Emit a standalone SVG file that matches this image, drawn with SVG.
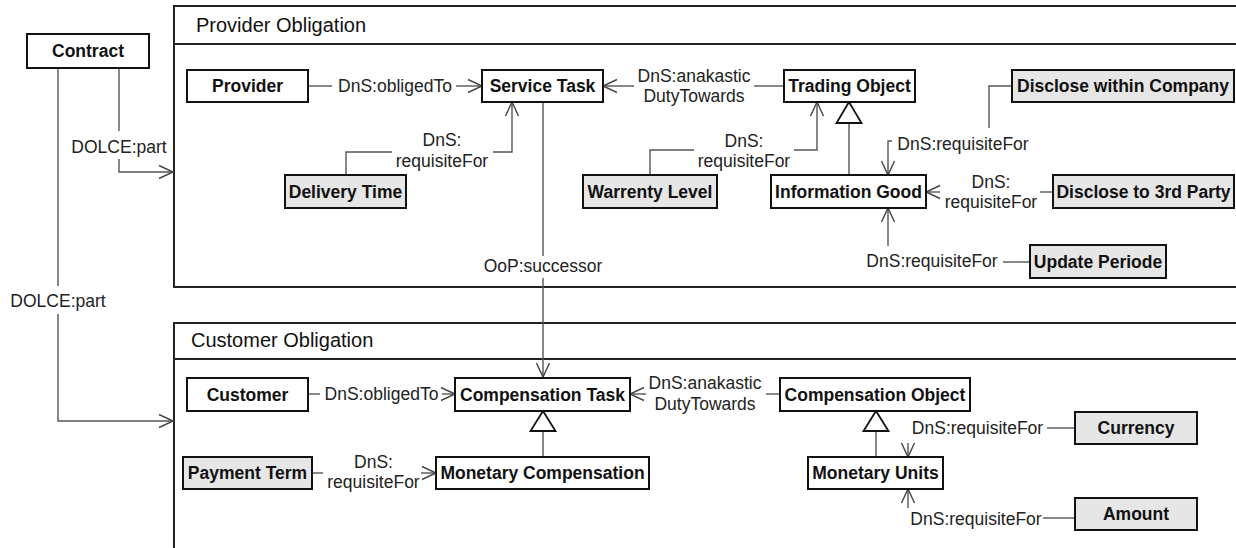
<svg xmlns="http://www.w3.org/2000/svg" width="1236" height="548" viewBox="0 0 1236 548">
<style>
.frame{fill:none;stroke:#222;stroke-width:2}
.title{font-family:"Liberation Sans",Arial,sans-serif;font-size:20px;fill:#111}
.node rect{fill:#fff;stroke:#111;stroke-width:2}
.node.req rect{fill:#e6e6e6}
.node text{font-family:"Liberation Sans",Arial,sans-serif;font-size:17.5px;font-weight:bold;text-anchor:middle;fill:#111}
.conn{fill:none;stroke:#555;stroke-width:1.4}
.arrow{marker-end:url(#open)}
.gen{fill:#fff;stroke:#111;stroke-width:1.8}
.lbl{font-family:"Liberation Sans",Arial,sans-serif;font-size:17.5px;text-anchor:middle;fill:#222}
</style>
<defs>
<marker id="open" markerUnits="userSpaceOnUse" markerWidth="16" markerHeight="14" viewBox="0 0 16 14" refX="14" refY="7" orient="auto" overflow="visible">
<path d="M0,0.5 L14,7 L0,13.5" fill="none" stroke="#444" stroke-width="1.4"/>
</marker>
</defs>
<rect width="1236" height="548" fill="#fff"/>

<g id="provider-obligation">
<path class="frame" d="M1240,6 H174 V287 H1240"/>
<path class="frame" d="M174,44 H1240"/>
<text class="title" x="196" y="32">Provider Obligation</text>
</g>
<g id="customer-obligation">
<path class="frame" d="M1240,323 H174 V552"/>
<path class="frame" d="M174,359 H1240"/>
<text class="title" x="191" y="347">Customer Obligation</text>
</g>

<g id="connectors">
<!-- Contract -> Provider Obligation -->
<path class="conn" d="M119,68 V131"/>
<path class="conn arrow" d="M119,159 V172 H173"/>
<text class="lbl" x="119" y="153">DOLCE:part</text>
<!-- Contract -> Customer Obligation -->
<path class="conn" d="M58,68 V286"/>
<path class="conn arrow" d="M58,314 V421 H173"/>
<text class="lbl" x="58" y="307">DOLCE:part</text>
<!-- Provider obligedTo -->
<path class="conn" d="M308,86 H332"/>
<path class="conn arrow" d="M456,86 H482"/>
<text class="lbl" x="395" y="92">DnS:obligedTo</text>
<!-- anakastic provider -->
<path class="conn arrow" d="M634,86 H603"/>
<path class="conn" d="M784,86 H754"/>
<text class="lbl" x="694" y="82">DnS:anakastic</text>
<text class="lbl" x="694" y="102">DutyTowards</text>
<!-- Disclose within Company -->
<path class="conn" d="M1012,86 H989 V128"/>
<path class="conn arrow" d="M892,141 H888 V175"/>
<text class="lbl" x="963" y="150">DnS:requisiteFor</text>
<!-- Disclose to 3rd Party -->
<path class="conn" d="M1053,192 H1040"/>
<path class="conn arrow" d="M940,192 H926"/>
<text class="lbl" x="991" y="188">DnS:</text>
<text class="lbl" x="991" y="208">requisiteFor</text>
<!-- Update Periode -->
<path class="conn" d="M1030,262 H1003"/>
<path class="conn arrow" d="M888,246 V208"/>
<text class="lbl" x="932" y="267">DnS:requisiteFor</text>
<!-- Delivery Time -->
<path class="conn" d="M346,175 V152 H392"/>
<path class="conn arrow" d="M493,152 H512 V102"/>
<text class="lbl" x="442" y="146">DnS:</text>
<text class="lbl" x="442" y="167">requisiteFor</text>
<!-- Warrenty Level -->
<path class="conn" d="M650,175 V150 H694"/>
<path class="conn arrow" d="M794,150 H817 V102"/>
<text class="lbl" x="744" y="147">DnS:</text>
<text class="lbl" x="744" y="167">requisiteFor</text>
<!-- Information Good generalizes Trading Object -->
<path class="conn" d="M849,175 V123"/>
<polygon class="gen" points="849,102 836.5,123 861.5,123"/>
<!-- successor -->
<path class="conn" d="M543,102 V256"/>
<path class="conn arrow" d="M543,278 V377"/>
<text class="lbl" x="543" y="272">OoP:successor</text>
<!-- Customer obligedTo -->
<path class="conn" d="M308,394 H320"/>
<path class="conn arrow" d="M442,394 H455"/>
<text class="lbl" x="381.5" y="400">DnS:obligedTo</text>
<!-- anakastic customer -->
<path class="conn arrow" d="M646,394 H630"/>
<path class="conn" d="M780,394 H766"/>
<text class="lbl" x="705" y="389">DnS:anakastic</text>
<text class="lbl" x="705" y="410">DutyTowards</text>
<!-- Monetary Compensation generalizes Compensation Task -->
<path class="conn" d="M543,457 V431"/>
<polygon class="gen" points="543,411 530.5,431 555.5,431"/>
<!-- Payment Term -->
<path class="conn" d="M312,473 H323"/>
<path class="conn arrow" d="M421,473 H436"/>
<text class="lbl" x="373.5" y="468">DnS:</text>
<text class="lbl" x="373.5" y="488">requisiteFor</text>
<!-- Monetary Units generalizes Compensation Object -->
<path class="conn" d="M876,457 V431"/>
<polygon class="gen" points="876,411 863.5,431 888.5,431"/>
<!-- Currency -->
<path class="conn" d="M1075,428 H1047"/>
<path class="conn arrow" d="M908,443 V457"/>
<text class="lbl" x="977.5" y="434">DnS:requisiteFor</text>
<!-- Amount -->
<path class="conn" d="M1075,518 H1043"/>
<path class="conn arrow" d="M908,508 V489"/>
<text class="lbl" x="976" y="525">DnS:requisiteFor</text>
</g>

<g id="contract" class="node"><rect x="27" y="34" width="122" height="34"/><text x="88" y="57">Contract</text></g>
<g id="provider" class="node"><rect x="187" y="70" width="121" height="32"/><text x="247.5" y="92">Provider</text></g>
<g id="service-task" class="node"><rect x="482" y="70" width="121" height="32"/><text x="542.5" y="92">Service Task</text></g>
<g id="trading-object" class="node"><rect x="784" y="70" width="131" height="32"/><text x="849.5" y="92">Trading Object</text></g>
<g id="disclose-within-company" class="node req"><rect x="1012" y="70" width="222" height="32"/><text x="1123" y="92">Disclose within Company</text></g>
<g id="delivery-time" class="node req"><rect x="285" y="175" width="121" height="33"/><text x="345.5" y="197.5">Delivery Time</text></g>
<g id="warrenty-level" class="node req"><rect x="583" y="175" width="134" height="33"/><text x="650" y="197.5">Warrenty Level</text></g>
<g id="information-good" class="node"><rect x="771" y="175" width="155" height="33"/><text x="848.5" y="197.5">Information Good</text></g>
<g id="disclose-to-3rd-party" class="node req"><rect x="1053" y="175" width="181" height="33"/><text x="1143.5" y="197.5">Disclose to 3rd Party</text></g>
<g id="update-periode" class="node req"><rect x="1030" y="245" width="136" height="33"/><text x="1098" y="267.5">Update Periode</text></g>
<g id="customer" class="node"><rect x="187" y="378" width="121" height="33"/><text x="247.5" y="400.5">Customer</text></g>
<g id="compensation-task" class="node"><rect x="455" y="378" width="175" height="33"/><text x="542.5" y="400.5">Compensation Task</text></g>
<g id="compensation-object" class="node"><rect x="780" y="378" width="190" height="33"/><text x="875" y="400.5">Compensation Object</text></g>
<g id="payment-term" class="node req"><rect x="183" y="457" width="129" height="32"/><text x="247.5" y="479">Payment Term</text></g>
<g id="monetary-compensation" class="node"><rect x="436" y="457" width="213" height="32"/><text x="542.5" y="479">Monetary Compensation</text></g>
<g id="monetary-units" class="node"><rect x="808" y="457" width="135" height="32"/><text x="875.5" y="479">Monetary Units</text></g>
<g id="currency" class="node req"><rect x="1075" y="412" width="122" height="32"/><text x="1136" y="434">Currency</text></g>
<g id="amount" class="node req"><rect x="1075" y="498" width="122" height="32"/><text x="1136" y="520">Amount</text></g>
</svg>
